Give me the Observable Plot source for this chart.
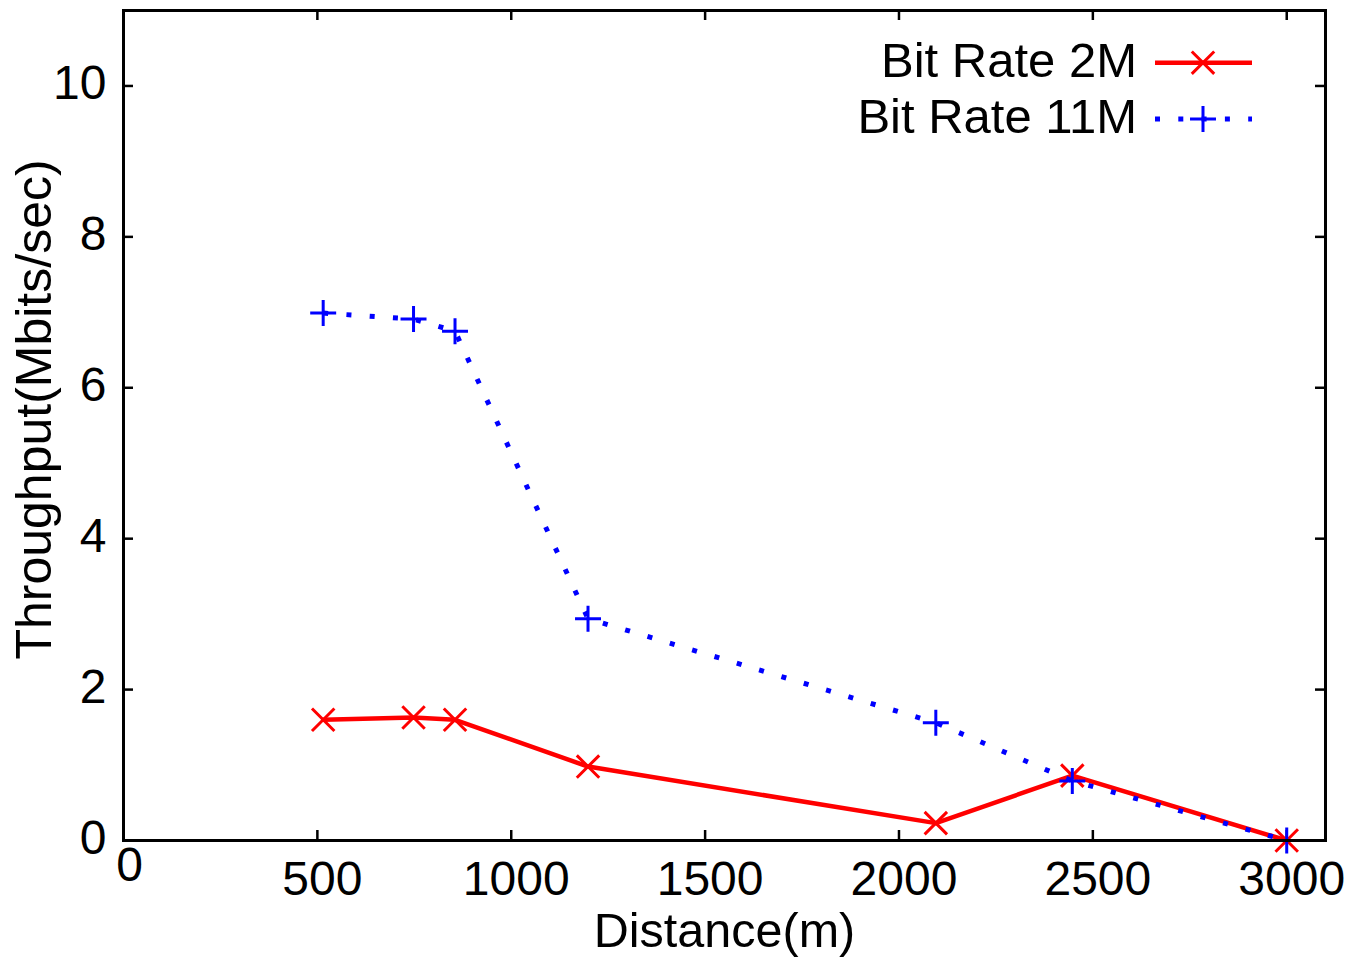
<!DOCTYPE html>
<html><head><meta charset="utf-8">
<script src="https://cdn.jsdelivr.net/npm/d3@7"></script>
<script src="https://cdn.jsdelivr.net/npm/@observablehq/plot@0.6"></script>
<style>html,body{margin:0;padding:0;background:#fff;overflow:hidden}</style>
</head><body><div id="chart"></div>
<script>
// ---- data ----
const distance = [515, 748, 855, 1198, 2095, 2447, 3000];
const rate2M   = [1.60, 1.63, 1.60, 0.98, 0.23, 0.86, 0.00];
const rate11M  = [6.99, 6.91, 6.75, 2.94, 1.56, 0.79, 0.00];
const seriesNames = ["Bit Rate 2M", "Bit Rate 11M"];
const xTicks = [500, 1000, 1500, 2000, 2500, 3000];
const xZeroTick = [0];
const yTicks = [0, 2, 4, 6, 8, 10];
const xLabel = "Distance(m)";
const yLabel = "Throughput(Mbits/sec)";

// ---- layout / style ----
const W = 1350, H = 959;
const mL = 123, mR = 25, mT = 10, mB = 119;
const frameW = W - mL - mR, frameH = H - mT - mB;
const tickLen = 10;
const FONT = "'Liberation Sans', Arial, Helvetica, sans-serif";
const RED = "#ff0000", BLUE = "#0000ff";
const DOTS = "5,18.3";

const rows2 = distance.map((d, i) => ({distance: d, value: rate2M[i]}));
const rows11 = distance.map((d, i) => ({distance: d, value: rate11M[i]}));

// d3 symbol sizes -> Plot r (area = pi r^2)
const timesR = Math.sqrt(330 / Math.PI);
const plusR = Math.sqrt(222 / Math.PI);

function legend(index, scales, values, dims) {
  const g = d3.create("svg:g").attr("font-family", FONT).attr("font-size", 49);
  const right = dims.width - dims.marginRight;
  const top = dims.marginTop;
  const entries = [
    {name: seriesNames[0], color: RED, dash: null, sym: d3.symbolTimes, size: 330, w: 4.5, ly: 52.7, ty: 67},
    {name: seriesNames[1], color: BLUE, dash: DOTS, sym: d3.symbolPlus, size: 222, w: 5, ly: 109, ty: 123}
  ];
  for (const e of entries) {
    g.append("text").attr("x", right - 188).attr("y", top + e.ty)
      .attr("text-anchor", "end").attr("fill", "black").text(e.name);
    g.append("line").attr("x1", right - 170).attr("x2", right - 73)
      .attr("y1", top + e.ly).attr("y2", top + e.ly)
      .attr("stroke", e.color).attr("stroke-width", e.w)
      .attr("stroke-dasharray", e.dash);
    g.append("path").attr("transform", `translate(${right - 122},${top + e.ly})`)
      .attr("d", d3.symbol(e.sym, e.size)()).attr("fill", "none")
      .attr("stroke", e.color).attr("stroke-width", 3);
  }
  return g.node();
}

const chart = Plot.plot({
  width: W, height: H,
  marginLeft: mL, marginRight: mR, marginTop: mT, marginBottom: mB,
  style: {fontFamily: FONT, fontSize: "48px", background: "white", color: "black", overflow: "visible"},
  x: {domain: [0, 3100]},
  y: {domain: [0, 11]},
  marks: [
    // tick labels
    Plot.axisX({ticks: xTicks, tickSize: 0, tickPadding: 20, dx: 5, label: null, tickFormat: d => String(d), fontSize: 48}),
    Plot.axisX({ticks: xZeroTick, tickSize: 0, tickPadding: 6, dx: 6, label: null, tickFormat: d => String(d), fontSize: 48}),
    Plot.axisY({ticks: yTicks, tickSize: 0, tickPadding: 17, dy: -2, label: null, tickFormat: d => String(d), fontSize: 48}),
    // inward ticks on all four sides
    Plot.tickX(xTicks, {x: d => d, insetTop: frameH - tickLen, stroke: "black", strokeWidth: 2.5}),
    Plot.tickX(xTicks, {x: d => d, insetBottom: frameH - tickLen, stroke: "black", strokeWidth: 2.5}),
    Plot.tickY(yTicks, {y: d => d, insetRight: frameW - tickLen, stroke: "black", strokeWidth: 2.5}),
    Plot.tickY(yTicks, {y: d => d, insetLeft: frameW - tickLen, stroke: "black", strokeWidth: 2.5}),
    // axis titles
    Plot.text([xLabel], {frameAnchor: "bottom", dy: 91, dx: 0, textAnchor: "middle", lineAnchor: "middle", fontSize: 48.5, fill: "black"}),
    Plot.text([yLabel], {frameAnchor: "left", rotate: -90, dx: -89, dy: -16, textAnchor: "middle", lineAnchor: "middle", fontSize: 50, fill: "black"}),
    // series
    Plot.line(rows2, {x: "distance", y: "value", stroke: RED, strokeWidth: 4.5, strokeLinejoin: "round"}),
    Plot.dot(rows2, {x: "distance", y: "value", symbol: "times", r: timesR, stroke: RED, strokeWidth: 3}),
    Plot.line(rows11, {x: "distance", y: "value", stroke: BLUE, strokeWidth: 5, strokeDasharray: DOTS, strokeLinecap: "butt"}),
    Plot.dot(rows11, {x: "distance", y: "value", symbol: "plus", r: plusR, stroke: BLUE, strokeWidth: 3}),
    // frame
    Plot.frame({stroke: "black", strokeWidth: 3}),
    legend
  ]
});
document.getElementById("chart").append(chart);
</script>
</body></html>
